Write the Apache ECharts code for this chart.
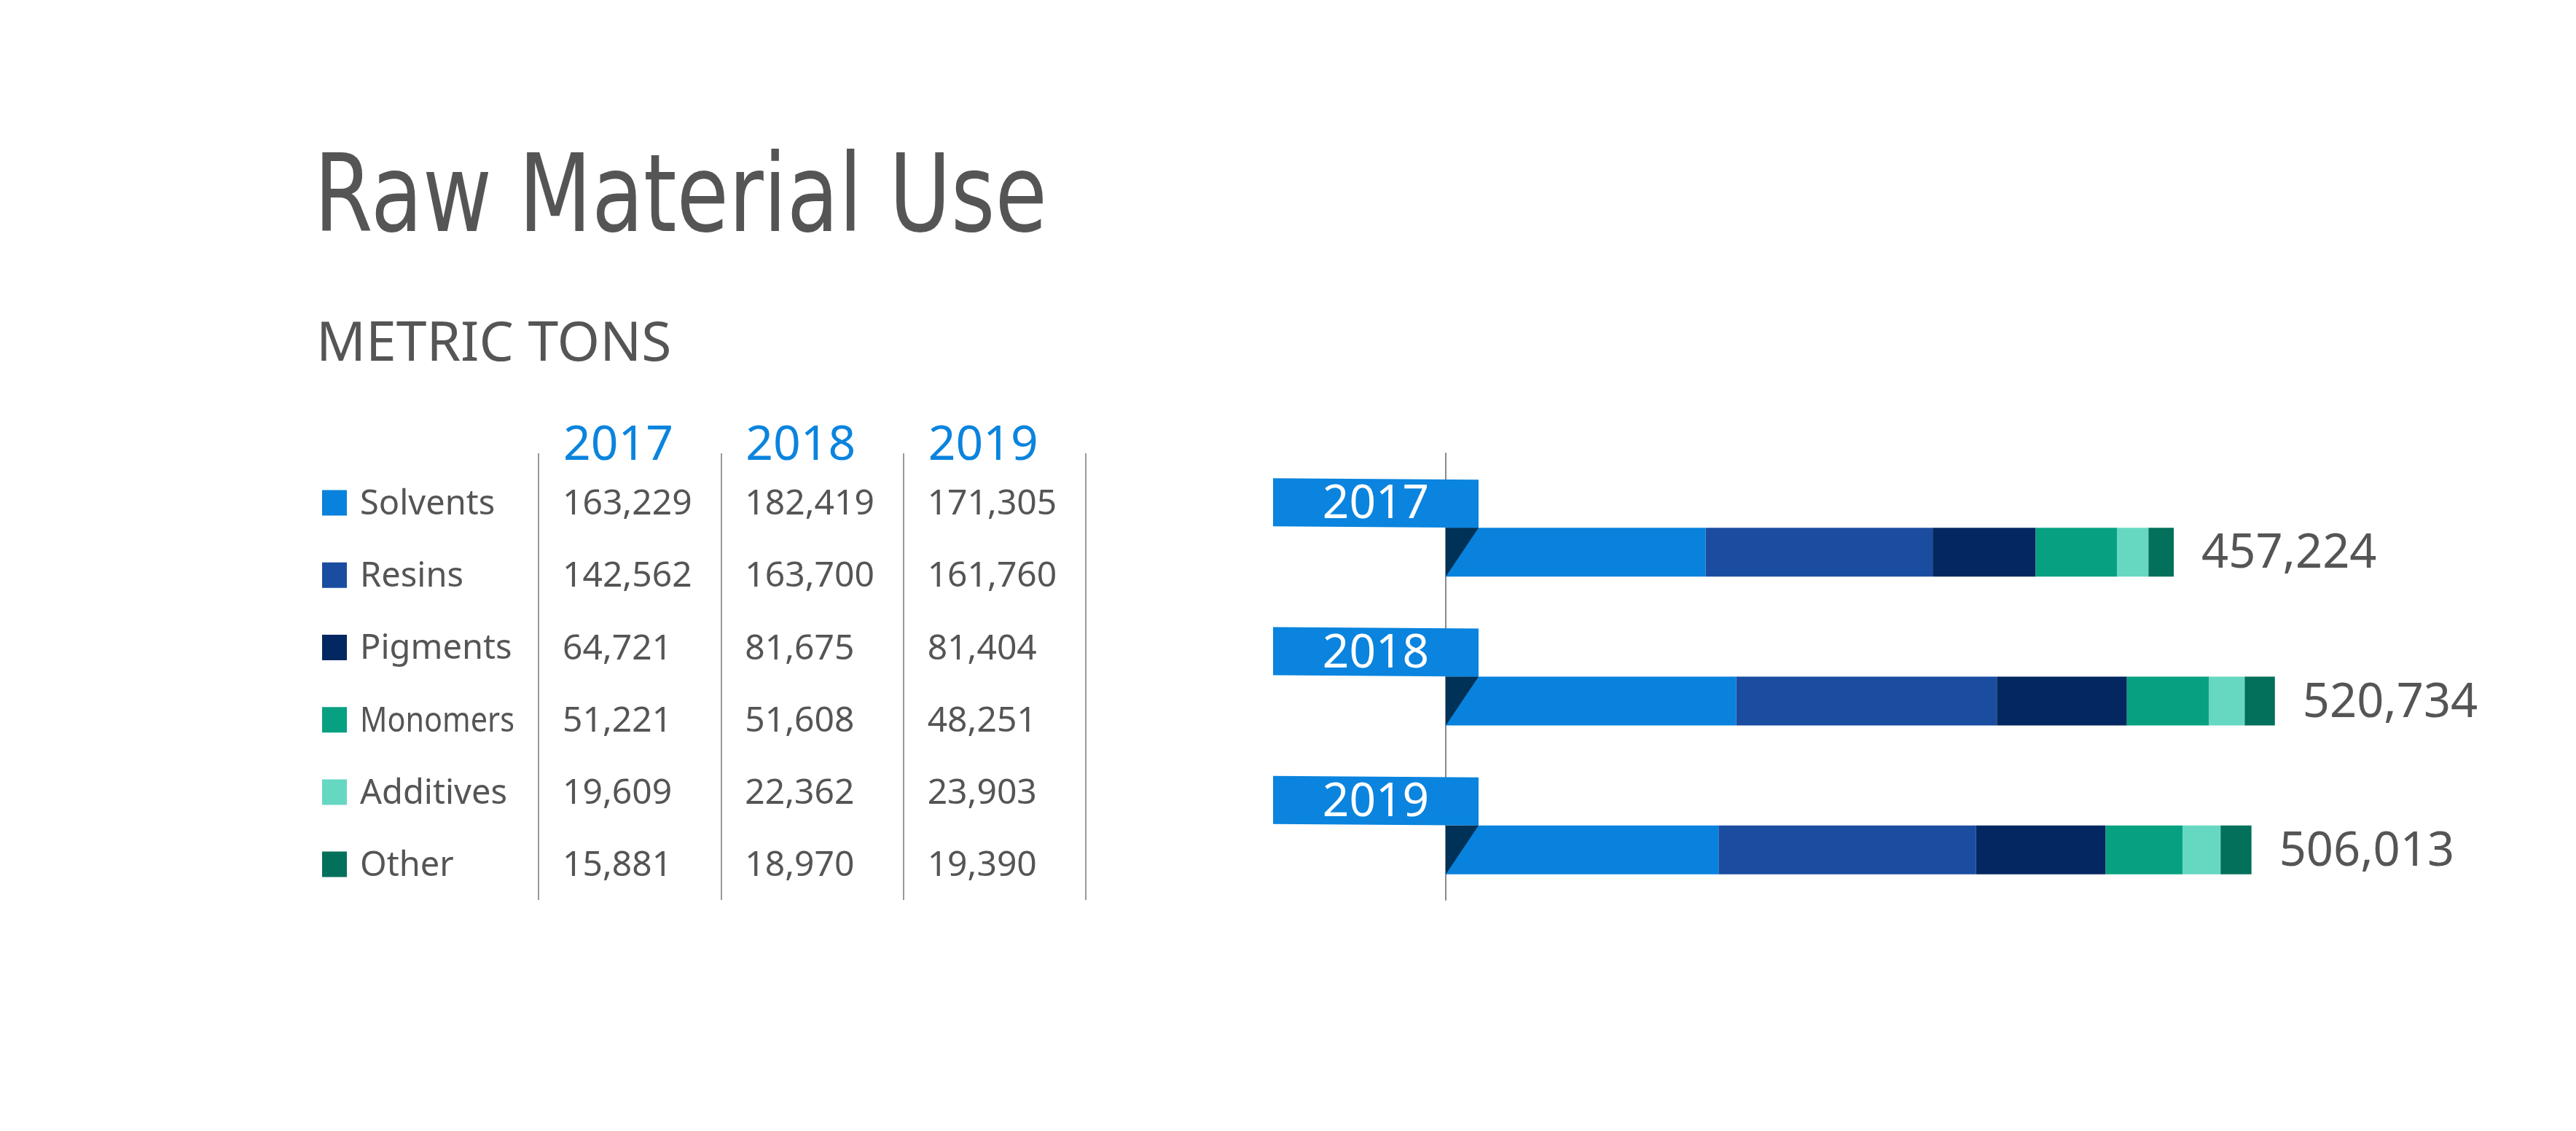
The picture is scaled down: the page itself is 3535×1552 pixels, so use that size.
<!DOCTYPE html>
<html><head><meta charset="utf-8">
<script src="https://cdn.jsdelivr.net/npm/echarts@6/dist/echarts.min.js"></script>
<style>html,body{margin:0;padding:0;background:#fff}#c{width:3535px;height:1552px}</style>
</head><body><div id="c"></div>
<script>
// ---- data ----
const years = ['2017', '2018', '2019'];
const categories = ['Solvents', 'Resins', 'Pigments', 'Monomers', 'Additives', 'Other'];
const solvents = [163229, 182419, 171305];
const resins = [142562, 163700, 161760];
const pigments = [64721, 81675, 81404];
const monomers = [51221, 51608, 48251];
const additives = [19609, 22362, 23903];
const other = [15881, 18970, 19390];
const totals = [457224, 520734, 506013];

// ---- styles ----
const colors = ['#0882DC', '#1A4DA0', '#032760', '#07A182', '#66D8C2', '#02705A'];
const BOX = '#0A84DE';
const FOLD = '#003156';
const TEXT = '#555555';
const SANS = '"Noto Sans", Lato, sans-serif';
const NARROW = '"Liberation Sans Narrow", "DejaVu Sans Condensed", sans-serif';
const TITLE_FONT = '148px ' + NARROW;
const LABEL_FONT = '47px ' + SANS;

const seriesValues = [solvents, resins, pigments, monomers, additives, other];
const fmt = v => v.toLocaleString('en-US');

const measureCtx = document.createElement('canvas').getContext('2d');
function textWidth(text, font) { measureCtx.font = font; return measureCtx.measureText(text).width; }
const titleScale = Math.min(1, 1006 / textWidth('Raw Material Use', TITLE_FONT));
const labelMaxW = 212;

const tableCells = [];
seriesValues.forEach((arr, r) => arr.forEach((v, c) => tableCells.push([c, r, v])));
const headerRow = -0.82;
const headerCells = years.map((y, c) => [c, headerRow]);
const legendCells = categories.map((n, r) => [0, r]);

const chart = echarts.init(document.getElementById('c'), null, { renderer: 'canvas' });

const option = {
  backgroundColor: '#ffffff',
  animation: false,
  graphic: [
    { type: 'text', x: 431, y: 279, scaleX: titleScale, style: { text: 'Raw Material Use', font: TITLE_FONT, fill: TEXT, verticalAlign: 'middle' } },
    { type: 'text', x: 434, y: 474, style: { text: 'METRIC TONS', font: '75px ' + SANS, fill: TEXT, verticalAlign: 'middle' } }
  ],
  grid: [
    { left: 1984, width: 1311, top: 622, height: 613 },
    { left: 739, width: 751, top: 622, height: 613 }
  ],
  xAxis: [
    { gridIndex: 0, type: 'value', min: 0, max: 600000, show: false },
    { gridIndex: 1, type: 'category', data: years, boundaryGap: true,
      axisLine: { show: false }, axisTick: { show: false }, axisLabel: { show: false },
      splitLine: { show: true, interval: 0, lineStyle: { color: '#9a9a9a', width: 2 } } }
  ],
  yAxis: [
    { gridIndex: 0, type: 'category', data: years, inverse: true,
      axisLine: { show: true, lineStyle: { color: '#8a8a8a', width: 2 } },
      axisTick: { show: false }, axisLabel: { show: false }, splitLine: { show: false } },
    { gridIndex: 1, type: 'value', inverse: true, min: -0.681, max: 5.498, show: false, splitLine: { show: false } }
  ],
  series: [
    { type: 'bar', name: 'pad', stack: 'pad', xAxisIndex: 0, yAxisIndex: 0, data: [0, 0, 0],
      barWidth: 67, barGap: '0%', itemStyle: { color: 'rgba(0,0,0,0)' }, silent: true },
    ...seriesValues.map((arr, i) => ({
      type: 'bar', name: categories[i], stack: 'total', xAxisIndex: 0, yAxisIndex: 0,
      data: arr, barWidth: 67, barGap: '0%', silent: true,
      itemStyle: { color: colors[i] },
      label: i === seriesValues.length - 1 ? {
        show: true, position: 'right', distance: 38, offset: [0, 3],
        formatter: p => fmt(totals[p.dataIndex]),
        fontFamily: SANS, fontSize: 65, color: TEXT
      } : { show: false }
    })),
    { // year ribbons with fold
      type: 'custom', xAxisIndex: 0, yAxisIndex: 0, z: 10, silent: true,
      data: years.map((y, i) => [0, i]),
      encode: { x: 0, y: 1 },
      renderItem: (params, api) => {
        const p = api.coord([0, api.value(1)]);
        const cx = p[0], cy = p[1];
        return {
          type: 'group',
          children: [
            { type: 'polygon', shape: { points: [[cx - 237, cy - 68], [cx + 45, cy - 66], [cx + 45, cy], [cx - 237, cy - 2]] }, style: { fill: BOX } },
            { type: 'polygon', shape: { points: [[cx, cy], [cx + 45, cy], [cx, cy + 67]] }, style: { fill: FOLD } },
            { type: 'text', style: { x: cx - 96, y: cy - 31, text: years[params.dataIndex], font: '64px ' + SANS, fill: '#ffffff', align: 'center', verticalAlign: 'middle' } }
          ]
        };
      }
    },
    { // table numbers
      type: 'custom', xAxisIndex: 1, yAxisIndex: 1, silent: true,
      data: tableCells, encode: { x: 0, y: 1 },
      renderItem: (params, api) => {
        const p = api.coord([api.value(0), api.value(1)]);
        const bw = api.size([1, 0])[0];
        return { type: 'text', style: { x: p[0] - bw / 2 + 33, y: p[1] + 3, text: fmt(tableCells[params.dataIndex][2]), font: '48px ' + SANS, fill: TEXT, align: 'left', verticalAlign: 'middle' } };
      }
    },
    { // table year headers
      type: 'custom', xAxisIndex: 1, yAxisIndex: 1, silent: true,
      data: headerCells, encode: { x: 0, y: 1 },
      renderItem: (params, api) => {
        const p = api.coord([api.value(0), api.value(1)]);
        const bw = api.size([1, 0])[0];
        return { type: 'text', style: { x: p[0] - bw / 2 + 34, y: p[1] + 4, text: years[params.dataIndex], font: '66px ' + SANS, fill: BOX, align: 'left', verticalAlign: 'middle' } };
      }
    },
    { // legend column
      type: 'custom', xAxisIndex: 1, yAxisIndex: 1, silent: true,
      data: legendCells, encode: { x: 0, y: 1 },
      renderItem: (params, api) => {
        const p = api.coord([api.value(0), api.value(1)]);
        const bw = api.size([1, 0])[0];
        const left = p[0] - bw / 2;
        const name = categories[params.dataIndex];
        const w = textWidth(name, LABEL_FONT);
        const sx = w > labelMaxW ? labelMaxW / w : 1;
        return {
          type: 'group',
          children: [
            { type: 'rect', shape: { x: left - 297, y: p[1] - 17, width: 34, height: 35 }, style: { fill: colors[params.dataIndex] } },
            { type: 'text', x: left - 245, y: p[1] + 3, scaleX: sx, style: { x: 0, y: 0, text: name, font: LABEL_FONT, fill: TEXT, align: 'left', verticalAlign: 'middle' } }
          ]
        };
      }
    }
  ]
};
chart.setOption(option);
</script>
</body></html>
